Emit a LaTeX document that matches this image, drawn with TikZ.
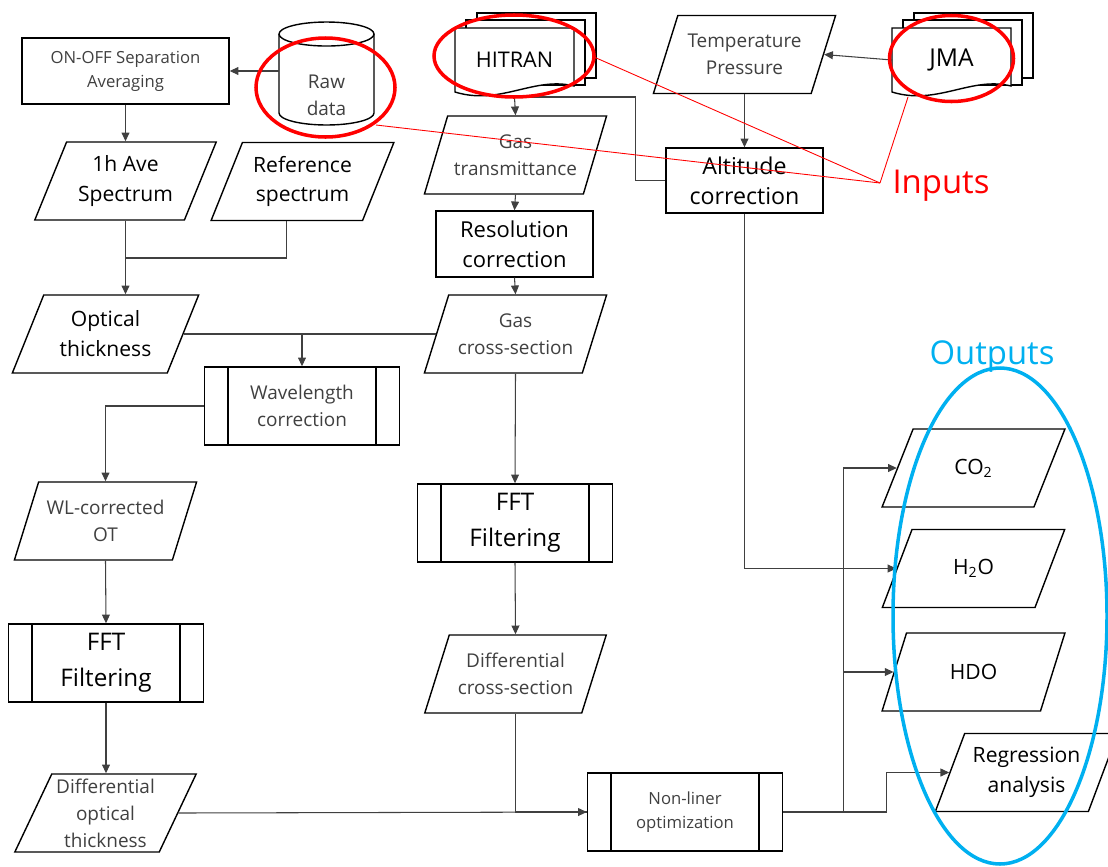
\documentclass[tikz,border=0pt]{standalone}
\usepackage{fontspec}
\setmainfont{Open Sans}
\usetikzlibrary{shapes.geometric,arrows.meta,calc}

\definecolor{outblue}{RGB}{0,176,240}

\tikzset{
  fbig/.style={font=\fontsize{12}{17}\selectfont},
  ffft/.style={font=\fontsize{13.8}{20.4}\selectfont},
  fmid/.style={font=\fontsize{10.8}{15.3}\selectfont, text=black!75},
  fsmall/.style={font=\fontsize{9.5}{13.6}\selectfont, text=black!75},
  box/.style={draw, rectangle, minimum width=3.14cm, minimum height=1.32cm, align=center},
  io/.style={draw, trapezium, trapezium left angle=64, trapezium right angle=116,
    trapezium stretches, minimum width=3.66cm, minimum height=1.56cm, align=center, inner sep=1pt},
  subproc/.style={draw, rectangle, minimum width=3.9cm, minimum height=1.56cm, align=center},
  doc/.style={minimum width=2.38cm, minimum height=1.28cm, inner sep=0pt, outer sep=0pt},
  line/.style={draw=black!75, line width=0.6pt},
  arr/.style={line, -{Triangle[length=5pt,width=4.5pt]}},
  ring/.style={draw=red, line width=2pt},
}

\begin{document}
\begin{tikzpicture}[x=0.02cm, y=0.02cm, line width=0.8pt]
  \useasboundingbox (0,0) rectangle (1108,-866);

  % inputs
  \node[box, fsmall, minimum width=4.14cm] (onoff) at (125.5,-71) {ON-OFF Separation\\Averaging};
  \node[minimum width=1.9cm, minimum height=2.06cm, inner sep=0pt, outer sep=0pt] (raw) at (326.5,-73.5) {};
  \draw ([shift={(0,-12)}]raw.north west) -- ([shift={(0,12)}]raw.south west)
    arc (180:360:47.5 and 12) -- ([shift={(0,-12)}]raw.north east);
  \draw ([shift={(0,-12)}]raw.north) ellipse (47.5 and 12);
  \node[fmid, align=center] (rawtxt) at (326.5,-95) {Raw\\data};

  \node[doc] (hitran) at (514.5,-60) {};
  \node[doc] (jma) at (951.5,-60) {};
  \foreach \n in {hitran,jma} {
    \draw[fill=white] ([shift={(22,14)}]\n.south west) rectangle ([shift={(22,15)}]\n.north east);
    \draw[fill=white] ([shift={(11,7)}]\n.south west) rectangle ([shift={(11,8)}]\n.north east);
    \draw[fill=white] (\n.north west) -- (\n.north east) -- ([shift={(0,6)}]\n.south east)
      .. controls ([shift={(-40,16)}]\n.south east) and ([shift={(45,-14)}]\n.south west) .. (\n.south west) -- cycle;
  }
  \node[fbig, font=\fontsize{12.3}{17}\selectfont] at (hitran) {HITRAN};
  \node[fbig, font=\fontsize{14}{17}\selectfont] at (jma) {JMA};

  \node[io, fmid] (temp) at (744.5,-54.5) {Temperature\\Pressure};
  \node[box, fbig, font=\fontsize{13.2}{17}\selectfont, minimum height=1.3cm] (alt) at (744.5,-180.5) {Altitude\\correction};

  % left column
  \node[io, fbig] (ave) at (125.5,-181) {1h Ave\\Spectrum};
  \node[io, fbig] (ref) at (302.5,-181.5) {Reference\\spectrum};
  \node[io, fbig, minimum width=3.74cm] (opt) at (105.5,-334) {Optical\\thickness};
  \node[subproc, fmid] (wlc) at (302,-406) {Wavelength\\correction};
  \node[io, fmid] (wlot) at (105.5,-521) {WL-corrected\\OT};
  \node[subproc, ffft] (fftl) at (106,-663) {FFT\\Filtering};
  \node[io, fmid] (dot) at (105.5,-813) {Differential\\optical\\thickness};

  % middle column
  \node[io, fmid] (gastr) at (515.5,-155) {Gas\\transmittance};
  \node[box, fbig, font=\fontsize{12.5}{17}\selectfont] (res) at (514.5,-244) {Resolution\\correction};
  \node[io, fmid] (gascs) at (515.5,-334) {Gas\\cross-section};
  \node[subproc, ffft] (fftr) at (515,-523) {FFT\\Filtering};
  \node[io, fmid] (dcs) at (515.5,-674) {Differential\\cross-section};
  \node[subproc, fsmall] (nlo) at (685,-812) {Non-liner\\optimization};

  % outputs
  \node[io, fbig] (co2) at (973.5,-468) {CO\textsubscript{2}};
  \node[io, fbig] (h2o) at (973.5,-568.5) {H\textsubscript{2}O};
  \node[io, fbig] (hdo) at (973.5,-672) {HDO};
  \node[io, fbig] (reg) at (1026.5,-772.5) {Regression\\analysis};

  \foreach \n in {wlc,fftl,fftr,nlo} {
    \draw ([xshift=0.48cm]\n.north west) -- ([xshift=0.48cm]\n.south west);
    \draw ([xshift=-0.48cm]\n.north east) -- ([xshift=-0.48cm]\n.south east);
  }

  % connectors
  \draw[arr] (raw.west |- onoff.east) -- (onoff.east);
  \draw[arr] (onoff.south) -- (ave.north -| onoff.south);
  \draw[arr] (ave.center |- ave.south) -- (ave.center |- opt.north);
  \draw[line] (ref.bottom side) |- (ave.center |- 0,-258);
  \draw[line] (opt.right side) -- (gascs.left side);
  \draw[arr] (wlc.north |- opt.right side) -- (wlc.north);
  \draw[arr] (wlc.west) -| (wlot.center |- wlot.north);
  \draw[arr] (wlot.center |- wlot.south) -- (fftl.north);
  \draw[arr] (fftl.south) -- (fftl.south |- dot.north);
  \draw[arr] (dot.right side) -- (nlo.west);

  \draw[arr] ([yshift=-0.1cm]hitran.south) -- (gastr.center |- gastr.north);
  \draw[line] ([yshift=-0.1cm]hitran.south) -| ([xshift=-0.6cm]alt.west) -- (alt.west);
  \draw[arr] (gastr.center |- gastr.south) -- (res.north);
  \draw[arr] (res.south) -- (gascs.center |- gascs.north);
  \draw[arr] (gascs.center |- gascs.south) -- (fftr.north);
  \draw[arr] (fftr.south) -- (dcs.center |- dcs.north);
  \draw[line] (dcs.center |- dcs.south) |- (nlo.west);

  \draw[arr] (jma.west) -- (temp.right side);
  \draw[arr] (temp.center |- temp.south) -- (alt.north);
  \draw[arr] (alt.south) |- (h2o.left side);

  \draw[arr] (nlo.east) -- ++(60,0) |- (co2.left side);
  \draw[arr] (nlo.east) -- ++(60,0) |- (hdo.left side);
  \draw[arr] (nlo.east) -- ++(103,0) |- (reg.left side);

  % annotations
  \draw[ring] (325.5,-87.5) ellipse (69.5 and 49.5);
  \draw[ring] (514,-56) ellipse (80 and 41);
  \draw[ring] (951.5,-58.5) ellipse (62 and 43);
  \coordinate (tip) at (880,-183);
  \draw[red, line width=0.5pt] (376,-125) -- (tip);
  \draw[red, line width=0.5pt] (594,-57) -- (tip);
  \draw[red, line width=0.5pt] (908,-97) -- (tip);
  \node[text=red, font=\fontsize{18.7}{22}\selectfont] (inputs) at (941,-186) {Inputs};

  \draw[draw=outblue, line width=2pt] (1000,-616) ellipse (107 and 248);
  \node[text=outblue, font=\fontsize{18.7}{22}\selectfont] (outputs) at (992,-357) {Outputs};
\end{tikzpicture}
\end{document}
